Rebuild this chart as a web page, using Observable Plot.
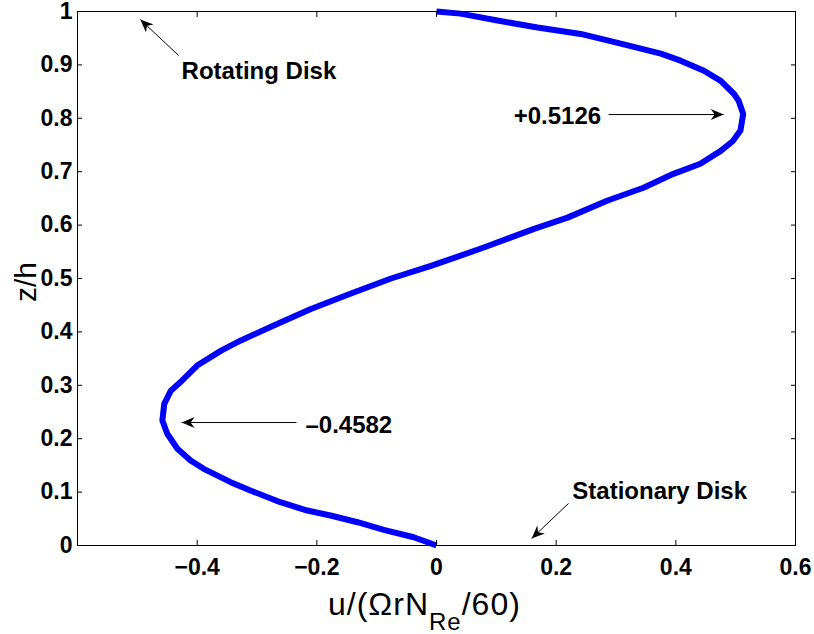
<!DOCTYPE html>
<html>
<head>
<meta charset="utf-8">
<script src="https://cdn.jsdelivr.net/npm/d3@7"></script>
<script src="https://cdn.jsdelivr.net/npm/@observablehq/plot@0.6"></script>
<style>
html, body { margin: 0; padding: 0; background: #fff; }
#chart svg { display: block; }
</style>
</head>
<body>
<div id="chart"></div>
<script>
// Velocity profile: z/h and u/(ΩrN_Re/60)
const zValues = [0, 0.0155, 0.0294, 0.0436, 0.0562, 0.0655, 0.0811, 0.103, 0.1186, 0.1436, 0.1592, 0.1811, 0.2092, 0.234, 0.2653, 0.29, 0.309, 0.337, 0.365, 0.384, 0.412, 0.443, 0.472, 0.50, 0.524, 0.558, 0.593, 0.614, 0.646, 0.670, 0.696, 0.715, 0.739, 0.757, 0.777, 0.808, 0.833, 0.846, 0.870, 0.889, 0.908, 0.921, 0.940, 0.958, 0.970, 0.983, 0.996, 1];
const uValues = [0, -0.038, -0.088, -0.132, -0.177, -0.216, -0.261, -0.311, -0.344, -0.389, -0.411, -0.433, -0.450, -0.4582, -0.455, -0.444, -0.425, -0.40, -0.36, -0.327, -0.272, -0.21, -0.143, -0.076, -0.008, 0.079, 0.163, 0.219, 0.286, 0.346, 0.396, 0.441, 0.475, 0.495, 0.508, 0.5126, 0.505, 0.497, 0.475, 0.447, 0.408, 0.375, 0.308, 0.241, 0.169, 0.102, 0.04, 0];

const xTicks = [-0.4, -0.2, 0, 0.2, 0.4, 0.6];
const yTicks = [0, 0.1, 0.2, 0.3, 0.4, 0.5, 0.6, 0.7, 0.8, 0.9, 1];

// Annotations (data coordinates)
const noteLabels = ["Rotating Disk", "+0.5126", "\u20130.4582", "Stationary Disk"];
const noteU = [-0.426, 0.129, -0.219, 0.227];
const noteZ = [0.8745, 0.790, 0.2116, 0.088];
const arrowFromU = [-0.431, 0.2875, -0.234, 0.2206];
const arrowFromZ = [0.9176, 0.807, 0.2303, 0.0787];
const arrowToU = [-0.495, 0.48, -0.426, 0.159];
const arrowToZ = [0.985, 0.807, 0.2303, 0.0131];

const xLabelMain = "u/(\u03A9rN";
const xLabelSub = "Re";
const xLabelEnd = "/60)";
const yLabelText = "z/h";

const profile = zValues.map((z, i) => ({z, u: uValues[i]}));
const notes = noteLabels.map((t, i) => ({t, u: noteU[i], z: noteZ[i]}));
const arrows = arrowFromU.map((u1, i) => ({u1, z1: arrowFromZ[i], u2: arrowToU[i], z2: arrowToZ[i]}));

const FONT = "'Liberation Sans', Arial, Helvetica, sans-serif";
const fmt = d => (d < 0 ? "\u2212" + String(Math.abs(d)) : String(d));

function filledHead(color) {
  const m = d3.create("svg:marker")
    .attr("viewBox", "-13 -6 14 12")
    .attr("markerWidth", 14)
    .attr("markerHeight", 12)
    .attr("markerUnits", "userSpaceOnUse")
    .attr("refX", 0)
    .attr("refY", 0)
    .attr("orient", "auto")
    .attr("overflow", "visible");
  m.append("path")
    .attr("d", "M0,0L-13,-5.5L-9,0L-13,5.5Z")
    .attr("fill", color)
    .attr("stroke", "none");
  return m.node();
}

const W = 814, H = 634;
const mL = 77, mR = 19, mT = 11, mB = 89;

const chart = Plot.plot({
  width: W,
  height: H,
  marginLeft: mL,
  marginRight: mR,
  marginTop: mT,
  marginBottom: mB,
  style: {fontFamily: FONT, background: "#fff", color: "#000"},
  x: {domain: [-0.6, 0.6], nice: false},
  y: {domain: [0, 1], nice: false},
  marks: [
    Plot.line(profile, {x: "u", y: "z", stroke: "#0000ff", strokeWidth: 6, strokeLinejoin: "round", strokeLinecap: "butt"}),
    Plot.link(arrows, {x1: "u1", y1: "z1", x2: "u2", y2: "z2", stroke: "#000", strokeWidth: 1, markerEnd: filledHead}),
    Plot.text(notes, {x: "u", y: "z", text: "t", textAnchor: "start", lineAnchor: "bottom", fontSize: 24, fontWeight: "bold", fill: "#000"}),
    Plot.frame({stroke: "#000", strokeWidth: 1}),
    Plot.axisX({anchor: "bottom", ticks: xTicks, tickFormat: fmt, tickSize: -5, tickPadding: 18, fontSize: 23, fontWeight: "bold", label: null, stroke: "#000"}),
    Plot.axisX({anchor: "top", ticks: xTicks, tickFormat: () => "", tickSize: -5, label: null, stroke: "#000"}),
    Plot.axisY({anchor: "left", ticks: yTicks, tickFormat: fmt, tickSize: -5, tickPadding: 10, fontSize: 23, fontWeight: "bold", label: null, stroke: "#000"}),
    Plot.axisY({anchor: "right", ticks: yTicks, tickFormat: () => "", tickSize: -5, label: null, stroke: "#000"})
  ]
});

const svg = d3.select(chart);
// x axis label with subscript
const xl = svg.append("text")
  .attr("x", 328)
  .attr("y", 615)
  .attr("text-anchor", "start")
  .attr("font-family", FONT)
  .attr("font-size", 32)
  .attr("letter-spacing", 1)
  .attr("fill", "#000");
xl.append("tspan").text(xLabelMain);
xl.append("tspan").attr("font-size", 24).attr("dy", 15).text(xLabelSub);
xl.append("tspan").attr("dy", -15).text(xLabelEnd);
// y axis label
svg.append("text")
  .attr("transform", `translate(36,${(mT + (H - mB)) / 2 + 4}) rotate(-90)`)
  .attr("text-anchor", "middle")
  .attr("font-family", FONT)
  .attr("font-size", 30)
  .attr("fill", "#000")
  .text(yLabelText);

document.getElementById("chart").appendChild(chart);
</script>
</body>
</html>
